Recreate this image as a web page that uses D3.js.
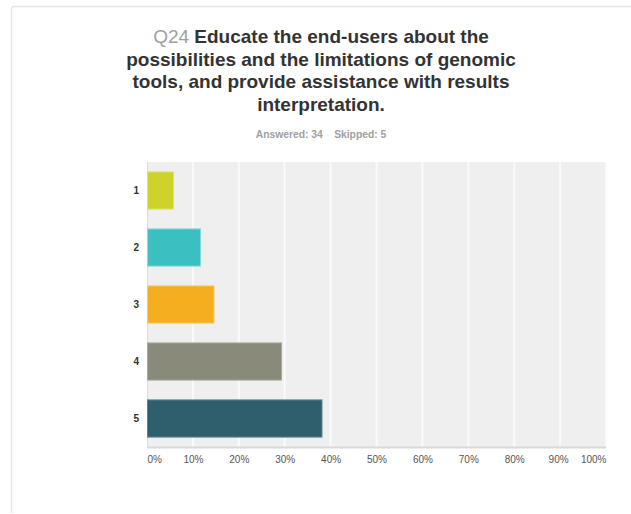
<!DOCTYPE html>
<html>
<head>
<meta charset="utf-8">
<script src="https://cdn.jsdelivr.net/npm/d3@7"></script>
<style>
  html, body { margin: 0; padding: 0; background: #fff; }
  svg { display: block; font-family: "Liberation Sans", Arial, sans-serif; }
</style>
</head>
<body>
<svg id="chart" width="631" height="514"></svg>
<script>
// Answer choices, counts and percentages (34 respondents)
const categories = ["1", "2", "3", "4", "5"];
const counts = [2, 4, 5, 10, 13];
const answered = 34;
const skipped = 5;
const percents = counts.map(c => c / answered);
const barColors = ["#ccd42a", "#3bbfc1", "#f4ae1f", "#898a79", "#2f5f6d"];
const barStrokes = ["#dde37a", "#86d8d9", "#f7ca6a", "#a9aa9c", "#5f8590"];
const tickValues = [0, 0.1, 0.2, 0.3, 0.4, 0.5, 0.6, 0.7, 0.8, 0.9, 1.0];
const titleLines = [
  ["Q24", " Educate the end-users about the"],
  ["", "possibilities and the limitations of genomic"],
  ["", "tools, and provide assistance with results"],
  ["", "interpretation."]
];

const svg = d3.select("#chart");

// Panel frame
svg.append("path")
  .attr("d", "M11.5,513 L11.5,9 Q11.5,6.5 14,6.5 L631,6.5")
  .attr("fill", "none")
  .attr("stroke", "#e6e6e6")
  .attr("stroke-width", 1.5);

// Title
const cx = 321;
const title = svg.append("text")
  .attr("text-anchor", "middle")
  .attr("font-size", 19)
  .attr("font-weight", "bold")
  .attr("fill", "#333");
titleLines.forEach((ln, i) => {
  const t = title.append("tspan").attr("x", cx).attr("y", 43 + i * 22.5);
  if (ln[0]) t.append("tspan").attr("fill", "#a0a0a0").attr("font-weight", "normal").text(ln[0]);
  t.append("tspan").text(ln[1]);
});

svg.append("text")
  .attr("x", cx).attr("y", 138)
  .attr("text-anchor", "middle")
  .attr("font-size", 10.3)
  .attr("font-weight", "bold")
  .attr("fill", "#a0a0a0")
  .attr("xml:space", "preserve")
  .text("Answered: " + answered + "    Skipped: " + skipped);

// Plot
const plotLeft = 147, plotRight = 606, plotTop = 162, plotBottom = 447;
const x = d3.scaleLinear().domain([0, 1]).range([plotLeft, plotRight]);
const y = d3.scaleBand().domain(categories).range([plotTop, plotBottom]).paddingInner(0.33).paddingOuter(0.165);

svg.append("rect")
  .attr("x", plotLeft).attr("y", plotTop)
  .attr("width", plotRight - plotLeft).attr("height", plotBottom - plotTop)
  .attr("fill", "#efefef");

svg.append("g").selectAll("line")
  .data(tickValues.slice(1))
  .join("line")
  .attr("x1", d => x(d)).attr("x2", d => x(d))
  .attr("y1", plotTop).attr("y2", plotBottom)
  .attr("stroke", "#fafafa")
  .attr("stroke-width", 2);

// left and bottom axis lines
svg.append("line")
  .attr("x1", plotLeft + 0.5).attr("x2", plotLeft + 0.5)
  .attr("y1", plotTop).attr("y2", plotBottom)
  .attr("stroke", "#dcdcdc");
svg.append("line")
  .attr("x1", plotLeft).attr("x2", plotRight)
  .attr("y1", plotBottom + 0.5).attr("y2", plotBottom + 0.5)
  .attr("stroke", "#d9d9d9")
  .attr("stroke-width", 2);

// Bars
svg.append("g").selectAll("rect")
  .data(categories)
  .join("rect")
  .attr("x", x(0) + 0.5)
  .attr("y", d => y(d) + 0.5)
  .attr("width", (d, i) => x(percents[i]) - x(0) - 1)
  .attr("height", y.bandwidth() - 1)
  .attr("fill", (d, i) => barColors[i])
  .attr("stroke", (d, i) => barStrokes[i])
  .attr("stroke-width", 1);

// Category labels
const yAxis = d3.axisLeft(y).tickSize(0).tickPadding(8);
const gy = svg.append("g").attr("transform", `translate(${plotLeft},0)`).call(yAxis);
gy.select(".domain").remove();
gy.selectAll("text")
  .attr("font-family", "'Liberation Sans', Arial, sans-serif")
  .attr("font-size", 10)
  .attr("font-weight", "bold")
  .attr("fill", "#333");

// Percent axis labels
const xAxis = d3.axisBottom(x).tickValues(tickValues).tickSize(0).tickPadding(9)
  .tickFormat(d => Math.round(d * 100) + "%");
const gx = svg.append("g").attr("transform", `translate(0,${plotBottom})`).call(xAxis);
gx.select(".domain").remove();
gx.selectAll("text")
  .attr("font-family", "'Liberation Sans', Arial, sans-serif")
  .attr("font-size", 10)
  .attr("fill", "#555")
  .attr("text-anchor", d => d === 0 ? "start" : d === 1 ? "end" : "middle")
  .attr("dx", d => d === 0.9 ? -2 : 0);
</script>
</body>
</html>
